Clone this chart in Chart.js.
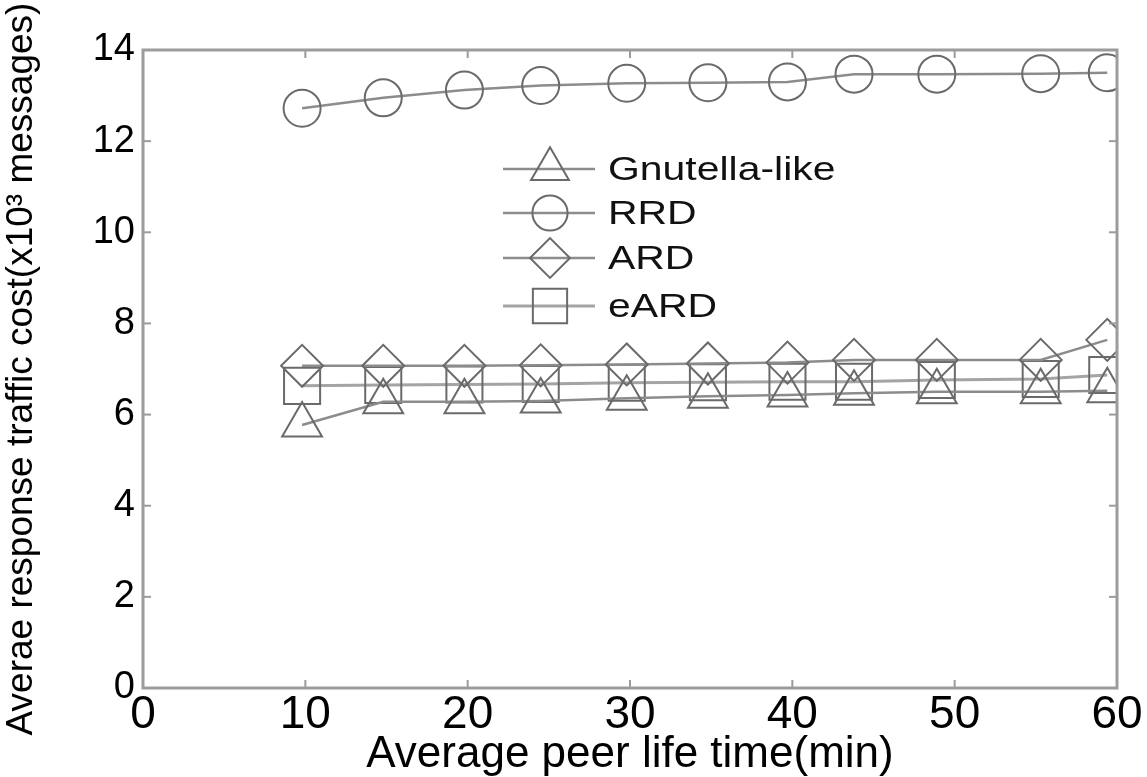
<!DOCTYPE html>
<html><head><meta charset="utf-8">
<script src="https://cdn.jsdelivr.net/npm/chart.js@4/dist/chart.umd.min.js"></script>
<style>html,body{margin:0;padding:0;background:#fff}canvas{display:block}</style>
</head><body>
<canvas id="c" width="1147" height="777"></canvas>
<script>
// ---- data ----
const lifeTimes = [9.8, 14.8, 19.8, 24.5, 29.8, 34.8, 39.7, 43.8, 48.9, 55.3, 59.4];
const gnutellaLike = [5.77, 6.28, 6.28, 6.30, 6.36, 6.40, 6.43, 6.47, 6.50, 6.50, 6.52];
const rrd = [12.72, 12.95, 13.12, 13.22, 13.27, 13.28, 13.30, 13.47, 13.47, 13.48, 13.50];
const ard = [7.07, 7.07, 7.07, 7.08, 7.10, 7.12, 7.14, 7.20, 7.20, 7.20, 7.64];
const eard = [6.63, 6.65, 6.66, 6.67, 6.70, 6.71, 6.72, 6.72, 6.76, 6.78, 6.87];
const seriesNames = ['Gnutella-like', 'RRD', 'ARD', 'eARD'];
const xTitle = 'Average peer life time(min)';
const yTitle = 'Averae response traffic cost(x10\u00B3 messages)';

const toPts = arr => arr.map((v, i) => ({x: lifeTimes[i], y: v}));

function ds(label, values, style, radius, lineColor, lineWidth) {
  return {
    label, data: toPts(values),
    borderColor: lineColor, borderWidth: lineWidth,
    pointStyle: style, pointRadius: radius, pointHoverRadius: radius,
    pointBorderColor: '#6a6a6a', pointBorderWidth: 2,
    pointBackgroundColor: 'rgba(0,0,0,0)',
    fill: false, tension: 0
  };
}

const frameLegend = {
  id: 'frameLegend',
  afterDraw(chart) {
    const {ctx, chartArea: {left, right, top, bottom}, scales: {x, y}} = chart;
    ctx.save();
    ctx.strokeStyle = '#9c9c9c';
    ctx.lineWidth = 3;
    ctx.strokeRect(left, top, right - left, bottom - top);
    ctx.lineWidth = 2;
    const seg = (a, b, c, d) => { ctx.beginPath(); ctx.moveTo(a, b); ctx.lineTo(c, d); ctx.stroke(); };
    x.ticks.forEach(t => {
      if (t.value <= x.min || t.value >= x.max) return;
      const p = x.getPixelForValue(t.value);
      seg(p, bottom, p, bottom - 8); seg(p, top, p, top + 8);
    });
    y.ticks.forEach(t => {
      if (t.value <= y.min || t.value >= y.max) return;
      const p = y.getPixelForValue(t.value);
      seg(left, p, left + 8, p); seg(right, p, right - 8, p);
    });
    // legend box (inside the plot)
    const rows = [169, 213, 258, 306];
    chart.data.datasets.forEach((d, i) => {
      const ry = rows[i];
      ctx.strokeStyle = d.borderColor; ctx.lineWidth = d.borderWidth;
      seg(503, ry, 595, ry);
      ctx.strokeStyle = d.pointBorderColor; ctx.fillStyle = 'rgba(0,0,0,0)';
      ctx.lineWidth = d.pointBorderWidth;
      Chart.helpers.drawPoint(ctx, {pointStyle: d.pointStyle, radius: d.pointRadius * 0.95, borderWidth: d.pointBorderWidth, rotation: 0}, 550, ry);
      ctx.save();
      ctx.fillStyle = '#111';
      ctx.font = '33px "Liberation Sans", Arial, sans-serif';
      ctx.textBaseline = 'middle';
      ctx.translate(608, ry + 2);
      ctx.scale(1.24, 1);
      ctx.fillText(d.label, 0, 0);
      ctx.restore();
    });
    ctx.restore();
  }
};

new Chart(document.getElementById('c'), {
  type: 'line',
  data: {
    datasets: [
      ds(seriesNames[0], gnutellaLike, 'triangle', 23, '#8c8c8c', 2.5),
      ds(seriesNames[1], rrd, 'circle', 18.5, '#8c8c8c', 2.5),
      ds(seriesNames[2], ard, 'rectRot', 21, '#8c8c8c', 2.5),
      ds(seriesNames[3], eard, 'rect', 25.5, '#a4a4a4', 3)
    ]
  },
  options: {
    responsive: false, animation: false,
    layout: {padding: {top: 50, right: 30, left: 0, bottom: 0}},
    plugins: {legend: {display: false}, tooltip: {enabled: false}},
    scales: {
      x: {
        type: 'linear', min: 0, max: 60,
        ticks: {stepSize: 10, color: '#000', padding: 4, maxRotation: 0,
          font: {family: '"Liberation Sans Narrow", "Liberation Sans", Arial, sans-serif', size: 46, lineHeight: 1}},
        grid: {display: false, drawTicks: false},
        border: {display: false},
        title: {display: true, text: xTitle, color: '#000', padding: {top: 0, bottom: 0},
          font: {family: '"Liberation Sans Narrow", "Liberation Sans", Arial, sans-serif', size: 44, lineHeight: 1}},
        afterFit(s) { s.height = 89; }
      },
      y: {
        min: 0, max: 14,
        ticks: {stepSize: 2, color: '#000', padding: 8,
          font: {family: '"Liberation Sans", Arial, sans-serif', size: 38, lineHeight: 1}},
        grid: {display: false, drawTicks: false},
        border: {display: false},
        title: {display: true, text: yTitle, color: '#000', padding: {top: 3, bottom: 0},
          font: {family: '"Liberation Sans", Arial, sans-serif', size: 37, lineHeight: 1}},
        afterFit(s) { s.width = 143; }
      }
    }
  },
  plugins: [frameLegend]
});
</script>
</body></html>
